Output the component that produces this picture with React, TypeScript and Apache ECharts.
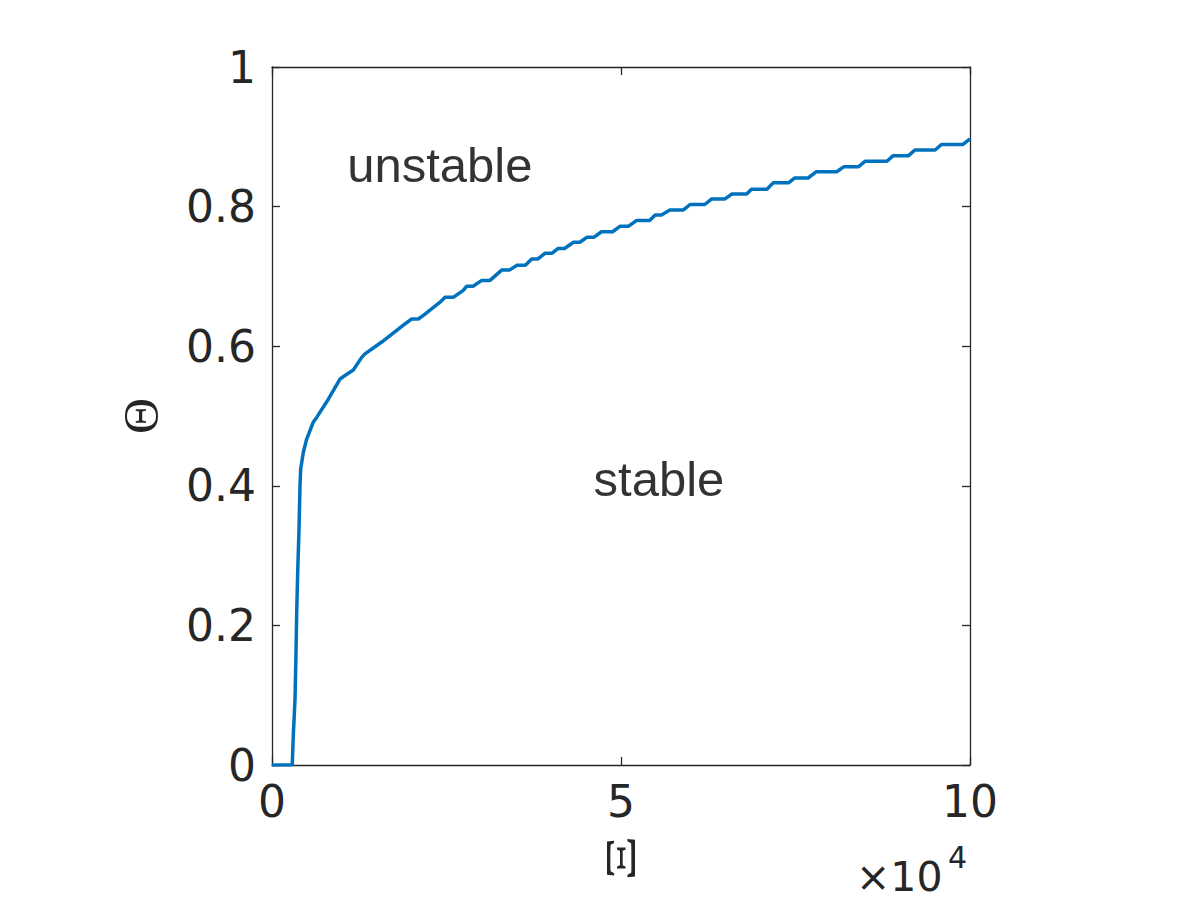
import React, { useEffect, useRef } from "react";
import * as echarts from "echarts";

// Boundary curve: Xi (raw units) vs Theta
const xiValues = [
  0, 2900, 3050, 3300, 3440, 3540, 3680, 3870, 4010, 4110, 4490, 4970, 5900, 6400,
  8070, 9740, 10460, 11650, 12850, 13320, 15720, 19050, 20010, 20960, 21920, 24070,
  24790, 25970, 27400, 27900, 28800, 30000, 31200, 32900, 34000, 35100, 36300, 37200,
  38100, 39100, 40100, 41000, 41900, 43200, 44100, 45100, 46100, 47200, 48800, 49900,
  51100, 52200, 54100, 54900, 55800, 57000, 58900, 59900, 62000, 63000, 64900, 65900,
  68000, 68700, 70900, 71800, 74000, 74900, 76800, 78000, 80900, 81900, 84000, 85000,
  88100, 89000, 91200, 92100, 95000, 95900, 99000, 100000,
];
const thetaValues = [
  0, 0, 0.042, 0.095, 0.162, 0.219, 0.276, 0.338, 0.4, 0.424, 0.448, 0.467, 0.491, 0.498,
  0.524, 0.553, 0.558, 0.566, 0.584, 0.589, 0.606, 0.632, 0.639, 0.639, 0.646, 0.663,
  0.67, 0.67, 0.68, 0.686, 0.686, 0.694, 0.694, 0.709, 0.709, 0.716, 0.716, 0.725,
  0.725, 0.733, 0.733, 0.74, 0.74, 0.749, 0.749, 0.756, 0.756, 0.764, 0.764, 0.772,
  0.772, 0.78, 0.78, 0.788, 0.788, 0.795, 0.795, 0.803, 0.803, 0.811, 0.811, 0.818,
  0.818, 0.825, 0.825, 0.834, 0.834, 0.841, 0.841, 0.85, 0.85, 0.857, 0.857, 0.865,
  0.865, 0.873, 0.873, 0.881, 0.881, 0.889, 0.889, 0.897,
];

// Region annotations (data coordinates)
const regionLabels = ["unstable", "stable"];
const regionXi = [10700, 46000];
const regionTheta = [0.86, 0.41];

const xMin = 0;
const xMax = 100000;
const xInterval = 50000;
const xScale = 10000;
const yMin = 0;
const yMax = 1;
const yInterval = 0.2;

const AX = "#262626";

export default function App() {
  const ref = useRef<HTMLDivElement>(null);
  useEffect(() => {
    if (!ref.current) return;
    const chart = echarts.init(ref.current, undefined, { renderer: "svg" });
    const lineStyle = { color: AX, width: 1.3 };
    const tickFont = { fontSize: 44, fontFamily: "DejaVu Sans", color: AX };
    const data = xiValues.map((x, i) => [x, thetaValues[i]]);
    const axisBase = (min: number, max: number, interval: number, position: string, labels: any) => ({
      type: "value", min, max, interval, position,
      axisLine: { show: true, onZero: false, lineStyle },
      axisTick: { show: true, inside: true, length: 8, lineStyle },
      axisLabel: labels,
      splitLine: { show: false },
    });
    const option: any = {
      animation: false,
      backgroundColor: "#ffffff",
      grid: { left: 272, top: 67, width: 698, height: 698 },
      xAxis: [
        axisBase(xMin, xMax, xInterval, "bottom", { ...tickFont, margin: 14, formatter: (v: number) => String(v / xScale) }),
        axisBase(xMin, xMax, xInterval, "top", { show: false }),
      ],
      yAxis: [
        axisBase(yMin, yMax, yInterval, "left", { ...tickFont, margin: 16 }),
        axisBase(yMin, yMax, yInterval, "right", { show: false }),
      ],
      series: [
        {
          type: "line", data, symbol: "none", showSymbol: false,
          lineStyle: { color: "#0072BD", width: 3.5 },
          xAxisIndex: 0, yAxisIndex: 0, z: 1,
        },
        {
          type: "scatter",
          xAxisIndex: 0, yAxisIndex: 0,
          symbolSize: 1,
          itemStyle: { color: "rgba(0,0,0,0)" },
          data: regionLabels.map((name, i) => ({ name, value: [regionXi[i], regionTheta[i]] })),
          label: {
            show: true, position: "right", distance: 0,
            formatter: (p: any) => p.name,
            fontSize: 49, fontFamily: "Liberation Sans", color: "#000000",
          },
        },
      ],
      graphic: [
        {
          type: "text", x: 141, y: 416, rotation: Math.PI / 2,
          style: { text: "Θ", fontSize: 50, fontFamily: "Liberation Serif", fill: AX, align: "center", verticalAlign: "middle" },
        },
        {
          type: "text", x: 621, y: 858, rotation: Math.PI / 2, scaleX: 1.7,
          style: { text: "Ξ", fontSize: 42, fontFamily: "Liberation Serif", fill: AX, align: "center", verticalAlign: "middle" },
        },
        {
          type: "text", x: 856, y: 877,
          style: { text: "×10", fontSize: 41, lineHeight: 41, fontFamily: "DejaVu Sans", fill: AX, align: "left", verticalAlign: "middle" },
        },
        {
          type: "text", x: 948, y: 857,
          style: { text: "4", fontSize: 30, lineHeight: 30, fontFamily: "DejaVu Sans", fill: AX, align: "left", verticalAlign: "middle" },
        },
      ],
    };
    chart.setOption(option);
    return () => chart.dispose();
  }, []);
  return <div ref={ref} style={{ position: "absolute", left: 0, top: 0, width: 1200, height: 900 }} />;
}
